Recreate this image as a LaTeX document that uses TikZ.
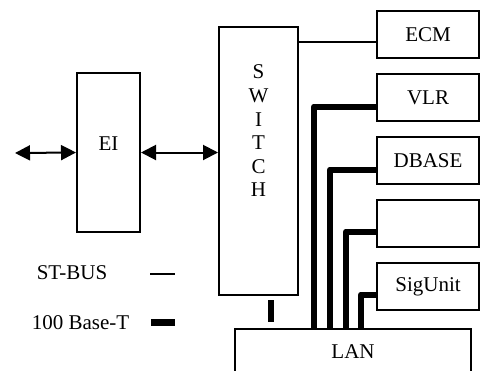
\documentclass[tikz,border=0pt]{standalone}
\usepackage{fontspec}
\setmainfont{Liberation Serif}
\usetikzlibrary{arrows.meta}

\tikzset{
  box/.style={draw, line width=1pt, inner sep=0pt, font=\fontsize{10.5}{12.6}\selectfont},
  stbus/.style={line width=1pt},
  fastlan/.style={line width=3pt, line join=round},
  duplex/.style={line width=1pt, {Triangle[length=7.5pt,width=7.5pt]}-{Triangle[length=7.5pt,width=7.5pt]}},
  legend/.style={font=\fontsize{10.5}{12.6}\selectfont, inner sep=0pt}
}

\begin{document}
\begin{tikzpicture}[x=0.5pt, y=-0.5pt]
\clip (0,0) rectangle (480,370);

% units on the right
\node[box, minimum width=51pt, minimum height=23.5pt] (ecm) at (428,34.5) {ECM};
\node[box, minimum width=51pt, minimum height=23.5pt] (vlr) at (428,97.5) {VLR};
\node[box, minimum width=51pt, minimum height=23.5pt] (dbase) at (428,160.5) {DBASE};
\node[box, minimum width=51pt, minimum height=23.5pt] (spare) at (428,223.5) {};
\node[box, minimum width=51pt, minimum height=23.5pt] (sigunit) at (428,286.5) {SigUnit};

% switch and interface
\node[box, minimum width=39.5pt, minimum height=134pt,
  label={[yshift=15pt, align=center, font=\fontsize{10.5}{11.8}\selectfont]center:S\\W\\I\\T\\C\\H}] (switch) at (258.5,161) {};
\node[box, minimum width=31.5pt, minimum height=79.5pt,
  label={[yshift=4.5pt, font=\fontsize{10.5}{12.6}\selectfont]center:EI}] (ei) at (108.5,152.5) {};
\node[box, minimum width=118pt, minimum height=23pt] (lan) at (353,352) {LAN};

% links
\coordinate (outside) at (15,153);
\draw[duplex] (outside) -- (ei.west);
\draw[duplex] (ei.east) -- (switch.west |- ei.east);
\draw[stbus] (switch.east |- 0,42) -- (ecm.west |- 0,42);

\coordinate (tapvlr) at (314,0);
\coordinate (tapdb) at (330,0);
\coordinate (tapspare) at (346,0);
\coordinate (tapsig) at (361,0);
\draw[fastlan] ([yshift=-4.5pt]vlr.west) -| (tapvlr |- lan.north);
\draw[fastlan] ([yshift=-4.5pt]dbase.west) -| (tapdb |- lan.north);
\draw[fastlan] ([yshift=-4pt]spare.west) -| (tapspare |- lan.north);
\draw[fastlan] ([yshift=-4pt]sigunit.west) -| (tapsig |- lan.north);
\coordinate (tapsw) at (271,0);
\draw[fastlan, shorten <=2pt, shorten >=3pt] (tapsw |- switch.south) -- (tapsw |- lan.north);

% legend
\node[legend] (stlabel) at (72,273) {ST-BUS};
\node[legend] (basetlabel) at (80.5,323) {100 Base-T};
\coordinate (stkey) at (150,274);
\coordinate (basetkey) at (151,322);
\draw[stbus] (stkey) -- ++(25,0);
\draw[line width=3.5pt] (basetkey) -- ++(24,0);
\end{tikzpicture}
\end{document}
